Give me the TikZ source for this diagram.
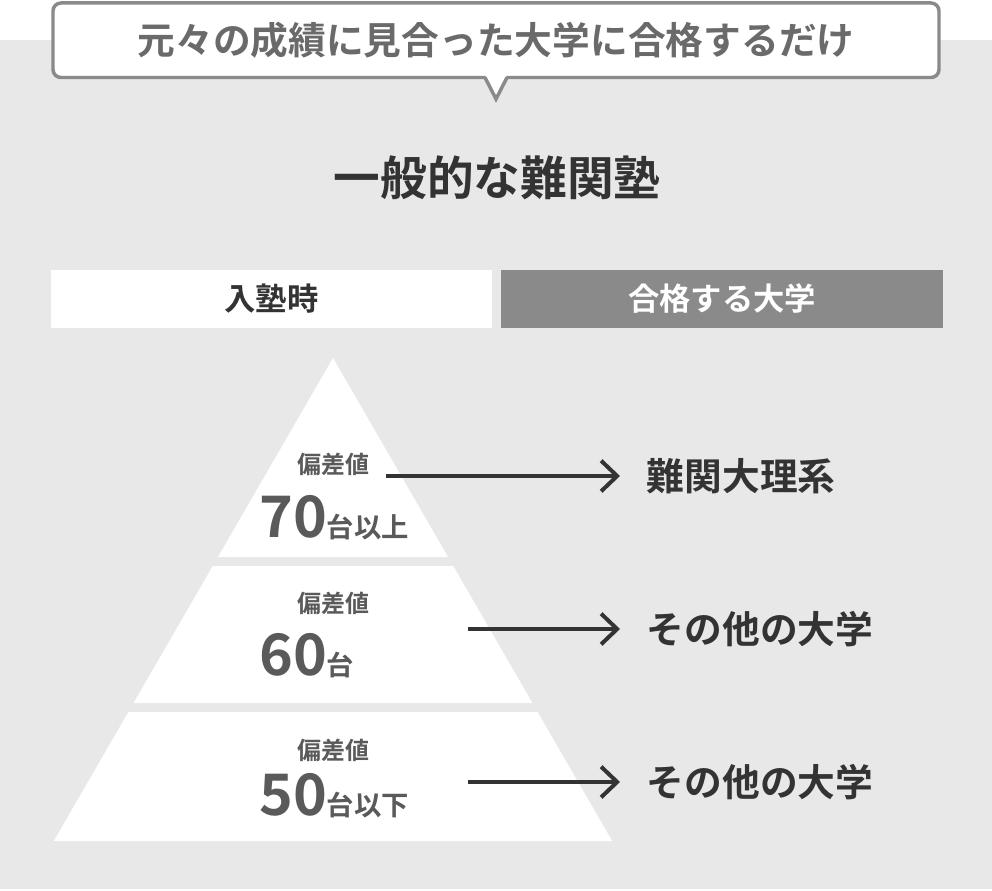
\documentclass[tikz,border=0pt]{standalone}
\usepackage{fontspec}
\setmainfont{Noto Sans CJK JP}[BoldFont={Noto Sans CJK JP Bold}]
\usetikzlibrary{arrows.meta}

\definecolor{bggray}{HTML}{E8E8E8}
\definecolor{linegray}{HTML}{8A8A8A}
\definecolor{calltext}{HTML}{6A6A6A}
\definecolor{pyrtext}{HTML}{5A5A5A}
\definecolor{darktext}{HTML}{333333}
\newcommand{\sz}[1]{\fontsize{#1}{#1}\selectfont}

\begin{document}
\begin{tikzpicture}[x=0.75pt,y=-0.75pt,
	callout/.style={draw=linegray, line width=2.6pt, fill=white, rounded corners=6pt,
		outer sep=0pt, minimum width=664.5pt, minimum height=55.9pt,
		text=calltext, font=\bfseries\sz{28.3}},
	headbox/.style={minimum width=331pt, minimum height=42.75pt, inner sep=0pt,
		font=\bfseries\sz{23.5}},
	level/.style={text=pyrtext, font=\bfseries\sz{18}, inner sep=0pt},
	score/.style={text=pyrtext, font=\bfseries, inner sep=0pt, anchor=base west},
	goal/.style={text=darktext, font=\bfseries\sz{28.3}, anchor=west, inner xsep=20pt, inner ysep=0pt},
	arr/.style={draw=darktext, line width=3pt,
		-{Straight Barb[length=12pt, width=23pt, line width=3pt]}}]

	%--- Rahmen ---
	\useasboundingbox (0,0) rectangle (992,891);
	\fill[bggray] (0,40) rectangle (992,889);

	%--- Sprechblase ---
	\node[callout] (callout) at (496,40.25) {元々の成績に見合った大学に合格するだけ};
	\path (callout.south) +(-11,0) coordinate (pl) +(11,0) coordinate (pr) +(0,21.5) coordinate (ptip);
	\fill[white] ([yshift=2pt]pl) -- ([yshift=2pt]pr) -- (ptip) -- cycle;
	\draw[draw=linegray, line width=2.6pt, line join=miter] (pl) -- (ptip) -- (pr);

	%--- Titel ---
	\node[text=darktext, font=\bfseries\sz{35}] (title) at (497,178) {一般的な難関塾};

	%--- Kopfzeile ---
	\node[headbox, fill=white, text=darktext] (h1) at (271.5,299) {入塾時};
	\node[headbox, fill=linegray, text=white] (h2) at (722,299) {合格する大学};

	%--- Pyramide ---
	\foreach \ya/\yb in {358/557, 566/703, 712/841} {
		\fill[white] ({333-0.578*(\ya-358)},\ya) -- ({333+0.578*(\ya-358)},\ya)
			-- ({333+0.578*(\yb-358)},\yb) -- ({333-0.578*(\yb-358)},\yb) -- cycle;
	}

	%--- Stufen ---
	\node[level] (l1) at (333,464) {偏差値};
	\node[score] (n1) at (259,537) {{\sz{43}70}{\sz{20.5}台以上}};
	\node[level] (l2) at (333,603) {偏差値};
	\node[score] (n2) at (259,675) {{\sz{43}60}{\sz{20.5}台}};
	\node[level] (l3) at (333,750) {偏差値};
	\node[score] (n3) at (259,815) {{\sz{43}50}{\sz{20.5}台以下}};

	%--- Pfeile ---
	\coordinate (s1) at (386,476);
	\coordinate (s2) at (468,629);
	\coordinate (s3) at (468,782);
	\node[goal] (g1) at (620,476) {難関大理系};
	\node[goal] (g2) at (620,629) {その他の大学};
	\node[goal] (g3) at (620,782) {その他の大学};
	\foreach \i in {1,2,3} {
		\draw[arr] (s\i) -- (g\i.west);
	}

\end{tikzpicture}
\end{document}
